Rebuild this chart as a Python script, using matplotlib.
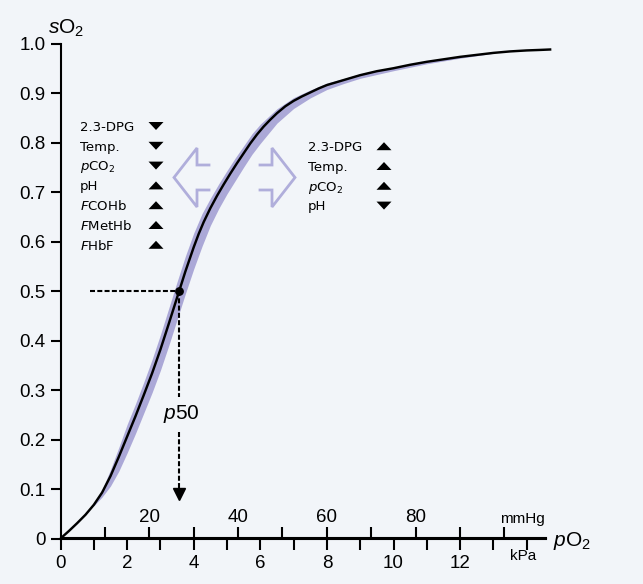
import matplotlib
matplotlib.use('Agg')
import matplotlib.pyplot as plt
from matplotlib.lines import Line2D
from matplotlib.patches import Polygon

# ---------------- data ----------------
po2_kpa = [0.00, 0.25, 0.50, 0.75, 1.00, 1.25, 1.50, 1.75, 2.00, 2.25, 2.50, 2.75,
           3.00, 3.25, 3.50, 3.75, 4.00, 4.15, 4.30, 4.50, 4.70, 4.90, 5.10, 5.30,
           5.50, 5.70, 5.90, 6.10, 6.30, 6.50, 6.75, 7.00, 7.25, 7.50, 7.75, 8.00,
           8.25, 8.50, 8.75, 9.00, 9.25, 9.50, 9.75, 10.00, 10.50, 11.00, 11.50,
           12.00, 12.50, 13.00, 13.50, 14.00, 14.40, 14.74]
so2 = [0.000, 0.015, 0.031, 0.048, 0.068, 0.093, 0.126, 0.165, 0.206, 0.247, 0.290, 0.334,
       0.382, 0.434, 0.487, 0.540, 0.589, 0.616, 0.640, 0.668, 0.693, 0.716, 0.738, 0.759,
       0.779, 0.799, 0.817, 0.833, 0.847, 0.860, 0.874, 0.885, 0.894, 0.902, 0.910, 0.917,
       0.922, 0.927, 0.932, 0.937, 0.941, 0.945, 0.948, 0.951, 0.958, 0.964, 0.969,
       0.974, 0.978, 0.982, 0.985, 0.987, 0.988, 0.989]

band_po2 = [1.00, 1.25, 1.50, 1.75, 2.00, 2.25, 2.50, 2.75, 3.00, 3.25, 3.50, 3.75,
            4.00, 4.25, 4.50, 4.75, 5.00, 5.25, 5.50, 5.75, 6.00, 6.50, 7.00, 7.50,
            8.00, 8.50, 9.00, 10.00, 11.00, 12.00, 13.00]
band_high = [0.069, 0.099, 0.139, 0.184, 0.2306, 0.272, 0.316, 0.362, 0.412, 0.4655, 0.519,
             0.571, 0.6175, 0.657, 0.688, 0.717, 0.744, 0.770, 0.794, 0.8185, 0.838, 0.869,
             0.8916, 0.907, 0.921, 0.930, 0.9397, 0.953, 0.9655, 0.975, 0.9823]
band_low = [0.066, 0.084, 0.106, 0.136, 0.173, 0.212, 0.2535, 0.295, 0.340, 0.390, 0.4425,
            0.495, 0.545, 0.591, 0.633, 0.667, 0.697, 0.724, 0.751, 0.777, 0.799, 0.840,
            0.8696, 0.891, 0.908, 0.920, 0.9307, 0.946, 0.960, 0.9713, 0.9812]

p50_kpa = 3.57
p50_so2 = 0.5

y_ticks = [0, 0.1, 0.2, 0.3, 0.4, 0.5, 0.6, 0.7, 0.8, 0.9, 1.0]
y_tick_labels = ['0', '0.1', '0.2', '0.3', '0.4', '0.5', '0.6', '0.7', '0.8', '0.9', '1.0']
kpa_ticks = list(range(0, 15))
kpa_labels = ['0', '', '2', '', '4', '', '6', '', '8', '', '10', '', '12', '', '']
mmhg_ticks = [10, 20, 30, 40, 50, 60, 70, 80, 90, 100]
mmhg_labels = ['', '20', '', '40', '', '60', '', '80', '', '']
KPA_TO_MMHG = 7.50062

left_factors = ['2.3-DPG', 'Temp.', '$p$CO$_2$', 'pH', '$F$COHb', '$F$MetHb', '$F$HbF']
left_dirs = ['down', 'down', 'down', 'up', 'up', 'up', 'up']
right_factors = ['2.3-DPG', 'Temp.', '$p$CO$_2$', 'pH']
right_dirs = ['up', 'up', 'up', 'down']

# ---------------- style ----------------
BG = '#f2f5f9'
BAND = '#aba8d7'
ARROW = '#b0aedb'
plt.rcParams['font.family'] = ['Liberation Sans', 'DejaVu Sans']
plt.rcParams['mathtext.rm'] = 'Liberation Sans'
plt.rcParams['mathtext.it'] = 'Liberation Sans:italic'
plt.rcParams['mathtext.bf'] = 'Liberation Sans:bold'

W, H = 643, 584
PX_PER_KPA = 33.3
X_MAX = 14.59


def fx(x):
    return x / W


def fy(y):
    return 1 - y / H


fig = plt.figure(figsize=(W / 100, H / 100), dpi=100, facecolor=BG)
ax = fig.add_axes([fx(60.5), (H - 538.5) / H, X_MAX * PX_PER_KPA / W, (538.5 - 44) / H])
ax.set_facecolor('none')

# band + curve
ax.fill_between(band_po2, band_low, band_high, color=BAND, lw=0, zorder=2)
ax.plot(po2_kpa, so2, color='black', lw=1.75, clip_on=False, zorder=3,
        solid_capstyle='butt', solid_joinstyle='round')

# p50 construction
dash = (0, (2.4, 1.1))
ax.plot([0.886, p50_kpa], [p50_so2, p50_so2], color='black', lw=1.5, ls=dash, zorder=2.5)
ax.plot([p50_kpa, p50_kpa], [p50_so2, 0.286], color='black', lw=1.5, ls=dash, zorder=2.5)
ax.plot([p50_kpa, p50_kpa], [0.215, 0.100], color='black', lw=1.5, ls=dash, zorder=2.5)
ax.plot([p50_kpa], [0.089], marker='v', color='black', markersize=8, zorder=4)
ax.plot([p50_kpa], [p50_so2], marker='o', color='black', markersize=5.3, zorder=4)
ax.text(p50_kpa + 0.05, 0.252, '$p$50', fontsize=15, ha='center', va='center',
        math_fontfamily='custom')

# axes
ax.set_xlim(0, X_MAX)
ax.set_ylim(0, 1.0)
for s in ['top', 'right']:
    ax.spines[s].set_visible(False)
for s in ['left', 'bottom']:
    ax.spines[s].set_linewidth(1.5)
ax.set_yticks(y_ticks, y_tick_labels)
ax.set_xticks(kpa_ticks, kpa_labels)
ax.tick_params(axis='y', direction='out', length=7.2, width=1.5, pad=3.5, labelsize=13.5)
ax.tick_params(axis='x', direction='out', length=7.9, width=1.5, pad=4, labelsize=13.5)

sec = ax.secondary_xaxis(0, functions=(lambda k: k * KPA_TO_MMHG, lambda m: m / KPA_TO_MMHG))
sec.set_alignment('top')
sec.set_xticks(mmhg_ticks, mmhg_labels)
sec.tick_params(axis='x', direction='out', length=7.9, width=1.5, pad=1, labelsize=13.5)
sec.spines['top'].set_linewidth(1.5)

ax.text(13.88, 0.039, 'mmHg', fontsize=11, ha='center', va='center', clip_on=False)
ax.text(13.88, -0.035, 'kPa', fontsize=11, ha='center', va='center', clip_on=False)

fig.text(fx(48), fy(33.5), '$s$O$_2$', fontsize=15, ha='left', va='baseline',
         math_fontfamily='custom')
fig.text(fx(553), fy(546), '$p$O$_2$', fontsize=15, ha='left', va='baseline',
         math_fontfamily='custom')


# factor lists
def triangle(cx, cy, direction):
    w, h = 7.5, 4.0
    if direction == 'up':
        pts = [(cx - w, cy + h), (cx + w, cy + h), (cx, cy - h)]
    else:
        pts = [(cx - w, cy - h), (cx + w, cy - h), (cx, cy + h)]
    fig.add_artist(Polygon([(fx(a), fy(b)) for a, b in pts], closed=True,
                           facecolor='black', edgecolor='none',
                           transform=fig.transFigure))


for i, (t, d) in enumerate(zip(left_factors, left_dirs)):
    base = 130.8 + 19.8 * i
    fig.text(fx(80), fy(base), t, fontsize=9.5, family='DejaVu Sans', va='baseline',
             math_fontfamily='dejavusans')
    triangle(156, base - 4.8, d)

for i, (t, d) in enumerate(zip(right_factors, right_dirs)):
    base = 151.0 + 19.8 * i
    fig.text(fx(308), fy(base), t, fontsize=9.5, family='DejaVu Sans', va='baseline',
             math_fontfamily='dejavusans')
    triangle(384, base - 4.8, d)

# open outline arrows
left_arrow = [(209, 165), (197, 165), (197, 148), (174, 177.5), (197, 207), (197, 190), (209, 190)]
right_arrow = [(260, 165), (272, 165), (272, 148), (295, 177.5), (272, 207), (272, 190), (260, 190)]
for pts in (left_arrow, right_arrow):
    fig.add_artist(Line2D([fx(a) for a, b in pts], [fy(b) for a, b in pts],
                          color=ARROW, lw=2.0, solid_joinstyle='miter',
                          transform=fig.transFigure))

fig.savefig('out.png', dpi=100, facecolor=BG)
